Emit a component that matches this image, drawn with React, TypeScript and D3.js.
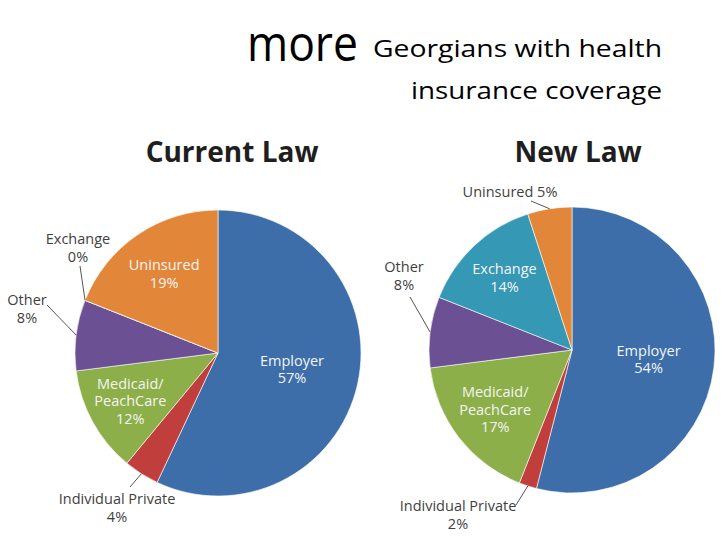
import React, { useEffect, useRef } from 'react';
import * as d3 from 'd3';

// slice order runs clockwise from 12 o'clock
const categories = ['Employer', 'Individual Private', 'Medicaid/PeachCare', 'Other', 'Exchange', 'Uninsured'];
const currentLaw = [57, 4, 12, 8, 0, 19];
const newLaw = [54, 2, 17, 8, 14, 5];
const sliceColors = ['#3d6eaa', '#c03f3c', '#8caf49', '#6c5094', '#3598b5', '#e2873a'];

interface LabelSpec {
  name: string;
  lines: string[];
  inside: boolean;
  radius?: number; // fraction of pie radius for inside labels
  at?: [number, number]; // label centre offset from pie centre (outside labels)
  from?: [number, number]; // leader line start offset from pie centre
}

interface PieSpec {
  title: string;
  titleDx: number;
  values: number[];
  cx: number;
  cy: number;
  labels: LabelSpec[];
}

const pct = (v: number) => `${v}%`;

const App: React.FC = () => {
  const ref = useRef<SVGSVGElement>(null);

  useEffect(() => {
    if (!ref.current) return;
    const svg = d3.select(ref.current);
    svg.selectAll('*').remove();

    const width = 728;
    const height = 546;
    svg.attr('width', width).attr('height', height);
    svg.append('rect').attr('width', width).attr('height', height).attr('fill', '#fff');

    // heading
    const head = svg.append('g').attr('font-family', 'Open Sans, sans-serif').attr('fill', '#000');
    head.append('text').attr('x', 247).attr('y', 61).attr('font-size', 50)
      .attr('textLength', 111).attr('lengthAdjust', 'spacingAndGlyphs').text('more');
    head.append('text').attr('x', 373).attr('y', 57).attr('font-size', 23)
      .attr('textLength', 289).attr('lengthAdjust', 'spacingAndGlyphs').text('Georgians with health');
    head.append('text').attr('x', 411).attr('y', 99).attr('font-size', 23)
      .attr('textLength', 251).attr('lengthAdjust', 'spacingAndGlyphs').text('insurance coverage');

    const r = 143;
    const lineH = 17.5;
    const titleY = 162;

    const pies: PieSpec[] = [
      {
        title: 'Current Law', titleDx: 14, values: currentLaw, cx: 218, cy: 353,
        labels: [
          { name: 'Employer', lines: ['Employer'], inside: true, radius: 0.53 },
          { name: 'Individual Private', lines: ['Individual Private'], inside: false, at: [-101, 155], from: [-88, 134] },
          { name: 'Medicaid/PeachCare', lines: ['Medicaid/', 'PeachCare'], inside: true, radius: 0.7 },
          { name: 'Other', lines: ['Other'], inside: false, at: [-191, -44], from: [-171, -48] },
          { name: 'Exchange', lines: ['Exchange'], inside: false, at: [-140, -105], from: [-138, -87] },
          { name: 'Uninsured', lines: ['Uninsured'], inside: true, radius: 0.67 },
        ],
      },
      {
        title: 'New Law', titleDx: 6, values: newLaw, cx: 572, cy: 350,
        labels: [
          { name: 'Employer', lines: ['Employer'], inside: true, radius: 0.54 },
          { name: 'Individual Private', lines: ['Individual Private'], inside: false, at: [-114, 165], from: [-56, 155] },
          { name: 'Medicaid/PeachCare', lines: ['Medicaid/', 'PeachCare'], inside: true, radius: 0.68 },
          { name: 'Other', lines: ['Other'], inside: false, at: [-168, -74], from: [-162, -53] },
          { name: 'Exchange', lines: ['Exchange'], inside: true, radius: 0.69 },
          { name: 'Uninsured', lines: ['Uninsured'], inside: false, at: [-62, -158], from: [-41, -149] },
        ],
      },
    ];

    const pie = d3.pie<number>().sort(null).value(d => d);
    const arc = d3.arc<d3.PieArcDatum<number>>().innerRadius(0).outerRadius(r);

    pies.forEach(p => {
      svg.append('text')
        .attr('x', p.cx + p.titleDx).attr('y', titleY)
        .attr('text-anchor', 'middle')
        .attr('font-family', 'Open Sans, sans-serif')
        .attr('font-weight', 700)
        .attr('font-size', 28)
        .attr('fill', '#1e1e1e')
        .text(p.title);

      const g = svg.append('g').attr('transform', `translate(${p.cx},${p.cy})`);
      const arcs = pie(p.values);

      g.selectAll('path.slice')
        .data(arcs)
        .enter()
        .append('path')
        .attr('class', 'slice')
        .attr('d', arc)
        .attr('fill', (_, i) => sliceColors[i])
        .attr('stroke', '#fff')
        .attr('stroke-width', 0.6);

      p.labels.forEach(l => {
        const i = categories.indexOf(l.name);
        const a = arcs[i];
        const lines = [...l.lines, pct(p.values[i])];
        const mid = (a.startAngle + a.endAngle) / 2;
        let x: number;
        let y: number;
        if (l.inside) {
          const lr = r * (l.radius ?? 0.65);
          x = Math.sin(mid) * lr;
          y = -Math.cos(mid) * lr;
        } else {
          [x, y] = l.at!;
          // leader to the rim of the slice
          const ex = Math.sin(mid) * r;
          const ey = -Math.cos(mid) * r;
          g.append('line')
            .attr('x1', l.from![0]).attr('y1', l.from![1])
            .attr('x2', ex).attr('y2', ey)
            .attr('stroke', '#555').attr('stroke-width', 1);
        }
        const oneLine = !l.inside && l.name === 'Uninsured';
        const textLines = oneLine ? [`${l.lines[0]} ${pct(p.values[i])}`] : lines;
        const t = g.append('text')
          .attr('text-anchor', 'middle')
          .attr('font-family', 'Open Sans, sans-serif')
          .attr('font-size', 14.5)
          .attr('fill', l.inside ? '#f4f4f4' : '#3f3f3f');
        const y0 = y - ((textLines.length - 1) * lineH) / 2 + 5;
        textLines.forEach((s, k) => {
          t.append('tspan').attr('x', x).attr('y', y0 + k * lineH).text(s);
        });
      });
    });
  }, []);

  return (
    <svg ref={ref} style={{ position: 'absolute', left: 0, top: 0 }} />
  );
};

export default App;
